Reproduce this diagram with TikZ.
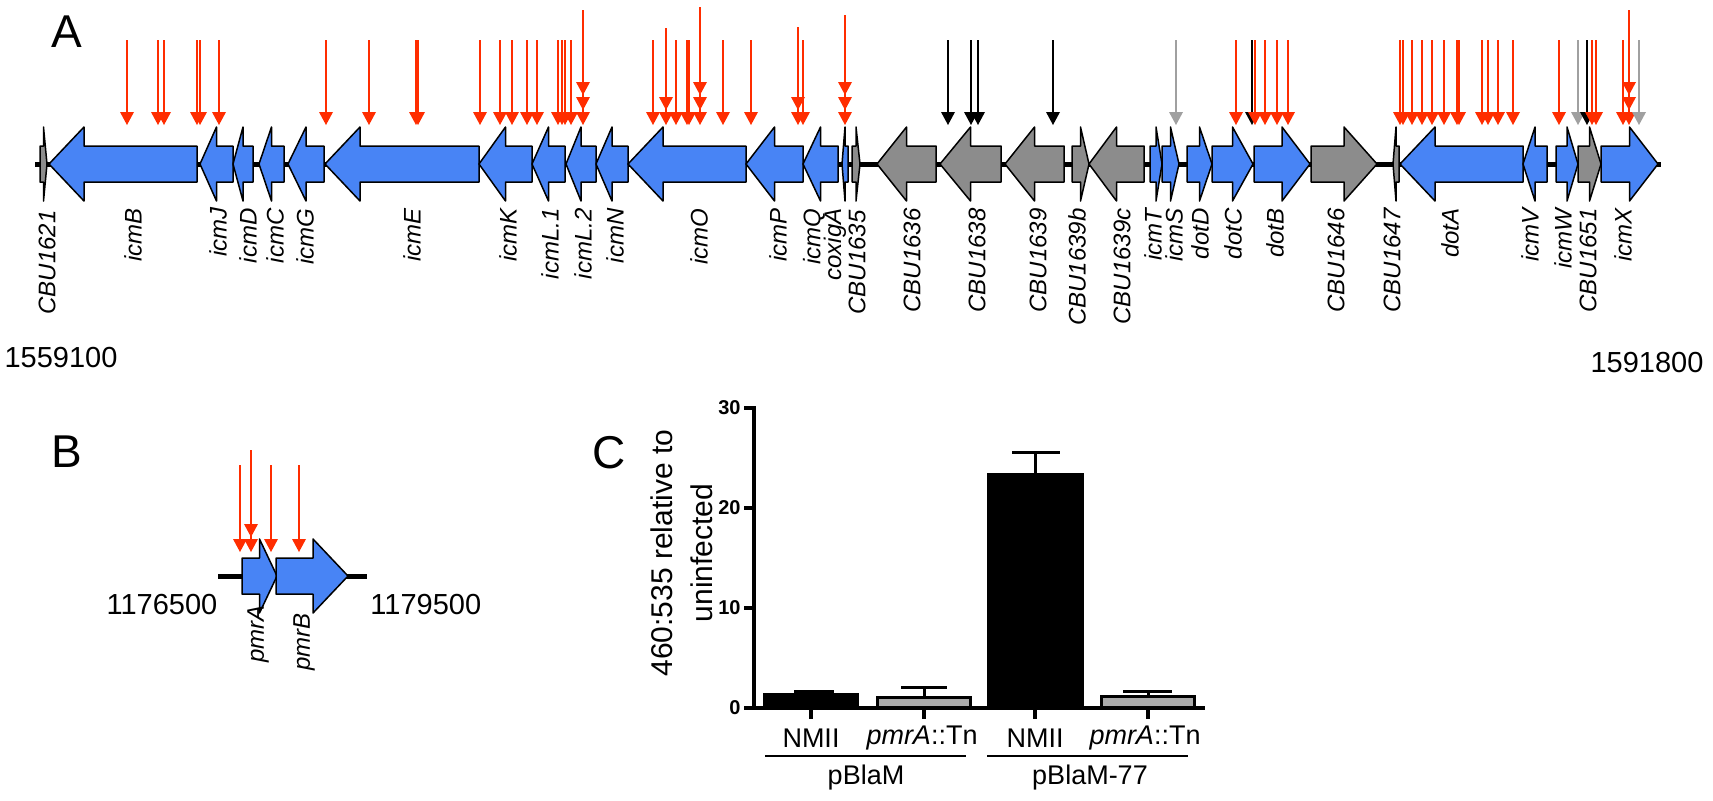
\documentclass[tikz,border=0pt]{standalone}
\usepackage{fontspec}
\setmainfont{Liberation Sans}
\usepackage{tikz}
\definecolor{geneblue}{RGB}{72,132,245}
\definecolor{genegray}{RGB}{140,140,140}
\definecolor{insred}{RGB}{255,45,0}
\definecolor{insgray}{RGB}{160,160,160}
\definecolor{bargray}{RGB}{170,170,170}
\tikzstyle{icm}=[draw=black, line width=0.75pt, line join=round, fill=geneblue]
\tikzstyle{orf}=[draw=black, line width=0.75pt, line join=round, fill=genegray]
\tikzstyle{track}=[black, line width=2.5pt]
\tikzstyle{glabel}=[rotate=90, anchor=east, inner sep=0pt, font=\fontsize{12}{14}\selectfont\itshape]
\tikzstyle{coord}=[inner sep=0pt, font=\fontsize{14.5}{17}\selectfont]
\tikzstyle{panel}=[inner sep=0pt, font=\fontsize{23}{26}\selectfont]
\tikzstyle{axis}=[black, line width=2pt]
\tikzstyle{ticklab}=[anchor=east, inner sep=0pt, font=\fontsize{10}{12}\selectfont\bfseries]
\tikzstyle{catlab}=[inner sep=0pt, font=\fontsize{13.5}{15}\selectfont]
\tikzstyle{blackbar}=[fill=black, draw=black, line width=1.5pt]
\tikzstyle{graybar}=[fill=bargray, draw=black, line width=1.5pt]
\tikzstyle{errbar}=[black, line width=1.5pt]
% gene arrows: style, start, tip (or tip, end), centre line
\newcommand{\fwdgene}[4]{%
	\pgfmathsetmacro{\headlen}{min(35,(#3-#2)/2)}
	\draw[#1] (#2,#4-18) -- ({#3-\headlen},#4-18) -- ({#3-\headlen},#4-37) -- (#3,#4) -- ({#3-\headlen},#4+37) -- ({#3-\headlen},#4+18) -- (#2,#4+18) -- cycle;
}
\newcommand{\revgene}[4]{%
	\pgfmathsetmacro{\headlen}{min(35,(#3-#2)/2)}
	\draw[#1] (#3,#4-18) -- ({#2+\headlen},#4-18) -- ({#2+\headlen},#4-37) -- (#2,#4) -- ({#2+\headlen},#4+37) -- ({#2+\headlen},#4+18) -- (#3,#4+18) -- cycle;
}
% insertion: colour, x, top of shaft, number of heads
\newcommand{\ins}[4]{%
	\draw[#1, line width=1.2pt] (#2,#3) -- (#2,115);
	\foreach \k in {1,...,#4}
		\fill[#1] ({#2-7},{127-15*\k}) -- ({#2+7},{127-15*\k}) -- (#2,{140-15*\k}) -- cycle;
}

\begin{document}
\begin{tikzpicture}[x=0.5pt, y=-0.5pt]
	\useasboundingbox (0,0) rectangle (1713,800);

	% ---- A ----
	\node[panel] (panA) at (67,32) {A};
	\draw[track] (35,164) -- (1661,164);
	\fwdgene{orf}{40}{47}{164}
	\revgene{icm}{49}{197}{164}
	\revgene{icm}{200}{233}{164}
	\revgene{icm}{233}{253}{164}
	\revgene{icm}{259}{284}{164}
	\revgene{icm}{288}{324}{164}
	\revgene{icm}{325}{479}{164}
	\revgene{icm}{479}{532}{164}
	\revgene{icm}{532}{565}{164}
	\revgene{icm}{566}{596}{164}
	\revgene{icm}{596}{628}{164}
	\revgene{icm}{628}{746}{164}
	\revgene{icm}{746}{803}{164}
	\revgene{icm}{803}{838}{164}
	\revgene{icm}{842}{848}{164}
	\fwdgene{orf}{852}{860}{164}
	\revgene{orf}{877}{936}{164}
	\revgene{orf}{940}{1001}{164}
	\revgene{orf}{1005}{1064}{164}
	\fwdgene{orf}{1072}{1089}{164}
	\revgene{orf}{1089}{1144}{164}
	\fwdgene{icm}{1150}{1162}{164}
	\fwdgene{icm}{1162}{1179}{164}
	\fwdgene{icm}{1187}{1212}{164}
	\fwdgene{icm}{1212}{1253}{164}
	\fwdgene{icm}{1254}{1310}{164}
	\fwdgene{orf}{1311}{1377}{164}
	\revgene{orf}{1393}{1399}{164}
	\revgene{icm}{1400}{1523}{164}
	\revgene{icm}{1523}{1547}{164}
	\fwdgene{icm}{1556}{1578}{164}
	\fwdgene{orf}{1578}{1601}{164}
	\fwdgene{icm}{1601}{1658}{164}

	\ins{insred}{127}{40}{1}
	\ins{insred}{158}{40}{1}
	\ins{insred}{164}{40}{1}
	\ins{insred}{197}{40}{1}
	\ins{insred}{200}{40}{1}
	\ins{insred}{219}{40}{1}
	\ins{insred}{326}{40}{1}
	\ins{insred}{369}{40}{1}
	\ins{insred}{416}{40}{1}
	\ins{insred}{418}{40}{1}
	\ins{insred}{480}{40}{1}
	\ins{insred}{500}{40}{1}
	\ins{insred}{512}{40}{1}
	\ins{insred}{527}{40}{1}
	\ins{insred}{537}{40}{1}
	\ins{insred}{558}{40}{1}
	\ins{insred}{562}{40}{1}
	\ins{insred}{565}{40}{1}
	\ins{insred}{571}{40}{1}
	\ins{insred}{583}{10}{3}
	\ins{insred}{653}{40}{1}
	\ins{insred}{666}{28}{2}
	\ins{insred}{676}{40}{1}
	\ins{insred}{687}{40}{1}
	\ins{insred}{689}{40}{1}
	\ins{insred}{700}{7}{3}
	\ins{insred}{723}{40}{1}
	\ins{insred}{751}{40}{1}
	\ins{insred}{798}{27}{2}
	\ins{insred}{803}{40}{1}
	\ins{insred}{845}{15}{3}
	\ins{black}{948}{40}{1}
	\ins{black}{971}{40}{1}
	\ins{black}{978}{40}{1}
	\ins{black}{1053}{40}{1}
	\ins{insgray}{1176}{40}{1}
	\ins{insred}{1236}{40}{1}
	\ins{black}{1252}{40}{1}
	\ins{insred}{1255}{40}{1}
	\ins{insred}{1265}{40}{1}
	\ins{insred}{1277}{40}{1}
	\ins{insred}{1288}{40}{1}
	\ins{insred}{1400}{40}{1}
	\ins{insred}{1403}{40}{1}
	\ins{insred}{1412}{40}{1}
	\ins{insred}{1422}{40}{1}
	\ins{insred}{1432}{40}{1}
	\ins{insred}{1444}{40}{1}
	\ins{insred}{1457}{40}{1}
	\ins{insred}{1459}{40}{1}
	\ins{insred}{1482}{40}{1}
	\ins{insred}{1488}{40}{1}
	\ins{insred}{1498}{40}{1}
	\ins{insred}{1513}{40}{1}
	\ins{insred}{1559}{40}{1}
	\ins{insgray}{1578}{40}{1}
	\ins{black}{1587}{40}{1}
	\ins{insred}{1592}{40}{1}
	\ins{insred}{1596}{40}{1}
	\ins{insred}{1623}{40}{1}
	\ins{insred}{1629}{10}{3}
	\ins{insgray}{1639}{40}{1}

	\node[glabel] (lCBU1621) at (47,210) {CBU1621};
	\node[glabel] (licmB) at (133,208) {icmB};
	\node[glabel] (licmJ) at (218,207) {icmJ};
	\node[glabel] (licmD) at (248,208) {icmD};
	\node[glabel] (licmC) at (275,208) {icmC};
	\node[glabel] (licmG) at (305,208) {icmG};
	\node[glabel] (licmE) at (412,208) {icmE};
	\node[glabel] (licmK) at (508,208) {icmK};
	\node[glabel] (licmLa) at (550,208) {icmL.1};
	\node[glabel] (licmLb) at (583,208) {icmL.2};
	\node[glabel] (licmN) at (615,208) {icmN};
	\node[glabel] (licmO) at (699,208) {icmO};
	\node[glabel] (licmP) at (778,208) {icmP};
	\node[glabel] (licmQ) at (814,208) {icmQ};
	\node[glabel] (lcoxigA) at (835,208) {coxigA};
	\node[glabel] (lCBU1635) at (857,210) {CBU1635};
	\node[glabel] (lCBU1636) at (912,208) {CBU1636};
	\node[glabel] (lCBU1638) at (977,208) {CBU1638};
	\node[glabel] (lCBU1639) at (1038,208) {CBU1639};
	\node[glabel] (lCBU1639b) at (1077,208) {CBU1639b};
	\node[glabel] (lCBU1639c) at (1122,208) {CBU1639c};
	\node[glabel] (licmT) at (1153,208) {icmT};
	\node[glabel] (licmS) at (1174,208) {icmS};
	\node[glabel] (ldotD) at (1200,208) {dotD};
	\node[glabel] (ldotC) at (1233,208) {dotC};
	\node[glabel] (ldotB) at (1275,208) {dotB};
	\node[glabel] (lCBU1646) at (1336,208) {CBU1646};
	\node[glabel] (lCBU1647) at (1392,208) {CBU1647};
	\node[glabel] (ldotA) at (1450,208) {dotA};
	\node[glabel] (licmV) at (1530,208) {icmV};
	\node[glabel] (licmW) at (1563,208) {icmW};
	\node[glabel] (lCBU1651) at (1588,208) {CBU1651};
	\node[glabel] (licmX) at (1623,208) {icmX};

	\node[coord] (startA) at (61,358) {1559100};
	\node[coord] (endA) at (1647,363) {1591800};

	% ---- B ----
	\node[panel] (panB) at (67,452) {B};
	\draw[track] (218,576) -- (367,576);
	\fwdgene{icm}{242}{277}{576}
	\fwdgene{icm}{276}{348}{576}
	\begin{scope}[shift={(0,427)}]
		\ins{insred}{240}{38}{1}
		\ins{insred}{251}{23}{2}
		\ins{insred}{271}{38}{1}
		\ins{insred}{299}{38}{1}
	\end{scope}
	\node[glabel] (lpmrA) at (258,605) {pmrA};
	\node[glabel] (lpmrB) at (304,613) {pmrB};
	\node[coord] (startB) at (162,605) {1176500};
	\node[coord, anchor=west] (endB) at (370,605) {1179500};

	% ---- C ----
	\node[panel] (panC) at (609,453) {C};
	\node[catlab, rotate=90, align=center, font=\fontsize{15}{20}\selectfont] (ylab) at (682,553) {460:535 relative to\\uninfected};
	\draw[blackbar] (764.5,708) rectangle (857.5,694.5);
	\draw[graybar] (877.5,708) rectangle (970.5,697);
	\draw[blackbar] (988.5,708) rectangle (1082.5,474.5);
	\draw[graybar] (1101.5,708) rectangle (1194.5,696);
	\draw[errbar] (811,694) -- (811,691.5) (794,691.5) -- (834,691.5);
	\draw[errbar] (924,696) -- (924,687) (901,687) -- (947,687);
	\draw[errbar] (1035,474) -- (1035,452) (1012,452) -- (1060,452);
	\draw[errbar] (1148,695) -- (1148,691) (1123,691) -- (1172,691);
	\draw[axis] (754,406) -- (754,708) -- (1205,708);
	\draw[axis] (744,408) -- (754,408);
	\draw[axis] (744,508) -- (754,508);
	\draw[axis] (744,608) -- (754,608);
	\draw[axis] (744,708) -- (754,708);
	\draw[axis] (811,708) -- (811,719);
	\draw[axis] (924,708) -- (924,719);
	\draw[axis] (1035,708) -- (1035,719);
	\draw[axis] (1148,708) -- (1148,719);
	\node[ticklab] (t30) at (741,408) {30};
	\node[ticklab] (t20) at (741,508) {20};
	\node[ticklab] (t10) at (741,608) {10};
	\node[ticklab] (t0) at (741,708) {0};
	\node[catlab] (cA) at (811,738) {NMII};
	\node[catlab] (cB) at (922,738) {\textit{pmrA}::Tn};
	\node[catlab] (cC) at (1035,738) {NMII};
	\node[catlab] (cD) at (1145,738) {\textit{pmrA}::Tn};
	\draw[black, line width=1pt] (765,756) -- (966,756);
	\draw[black, line width=1pt] (987,756) -- (1188,756);
	\node[catlab] (gA) at (866,778) {pBlaM};
	\node[catlab] (gB) at (1090,778) {pBlaM-77};
\end{tikzpicture}
\end{document}
